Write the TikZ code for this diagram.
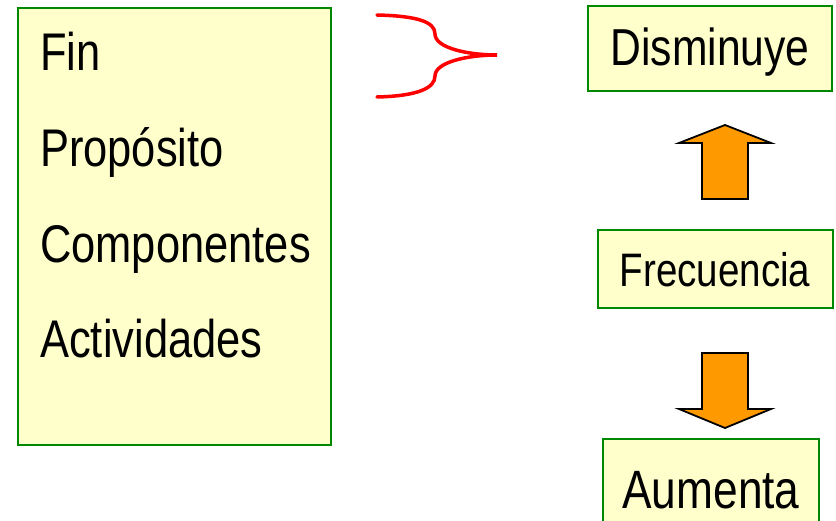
\documentclass[tikz,border=0pt]{standalone}
\usepackage{fontspec}
\setmainfont[FakeStretch=0.82]{Liberation Sans}
\usepackage{tikz}
\usetikzlibrary{positioning,calc}
\definecolor{boxfill}{RGB}{255,255,204}
\definecolor{boxline}{RGB}{0,136,0}
\definecolor{arrowfill}{RGB}{255,153,0}
\definecolor{bracered}{RGB}{255,0,0}

\begin{document}
\begin{tikzpicture}[
    x=1pt, y=-1pt,
    panel/.style={rectangle, draw=boxline, fill=boxfill, line width=2pt, inner sep=0pt},
    level/.style={anchor=base west, inner sep=0pt, font=\fontsize{53}{60}\selectfont},
    result/.style={panel, text depth=0pt},
    blockarrow/.style={draw=black, fill=arrowfill, line width=1.8pt, line join=miter}
]
    \useasboundingbox (0,0) rectangle (836,521);

    % left column with the levels
    \node[panel, minimum width=313pt, minimum height=437pt] (levels) at (174.5,226.5) {};
    \node[level] (fin) at (40,71) {Fin};
    \node[level] (proposito) at (40,167) {Propósito};
    \node[level] (componentes) at (40,263) {Componentes};
    \node[level] (actividades) at (40,358) {Actividades};

    % brace
    \draw[bracered, line width=3.5pt, line cap=round]
        (377,15) .. controls (418,16) and (435,22) .. (435,34)
        .. controls (435,48) and (468,55) .. (497,55)
        .. controls (468,55) and (435,62) .. (435,76)
        .. controls (435,88) and (418,96) .. (377,97);

    % right column
    \node[result, text height=35pt, minimum width=244pt, minimum height=85pt, font=\fontsize{52}{60}\selectfont] (disminuye) at (710,48.5) {Disminuye};
    \node[result, text height=36pt, minimum width=235pt, minimum height=78pt, font=\fontsize{47}{56}\selectfont] (frecuencia) at (715,269) {Frecuencia};
    \node[result, text height=40pt, minimum width=216pt, minimum height=98pt, font=\fontsize{54}{64}\selectfont] (aumenta) at (711,488) {Aumenta};

    \draw[blockarrow] (702,199) -- (702,143) -- (679,143) -- (725,125) -- (771,143) -- (748,143) -- (748,199) -- cycle;
    \draw[blockarrow] (702,353) -- (702,409) -- (679,409) -- (725,428) -- (771,409) -- (748,409) -- (748,353) -- cycle;
\end{tikzpicture}
\end{document}
